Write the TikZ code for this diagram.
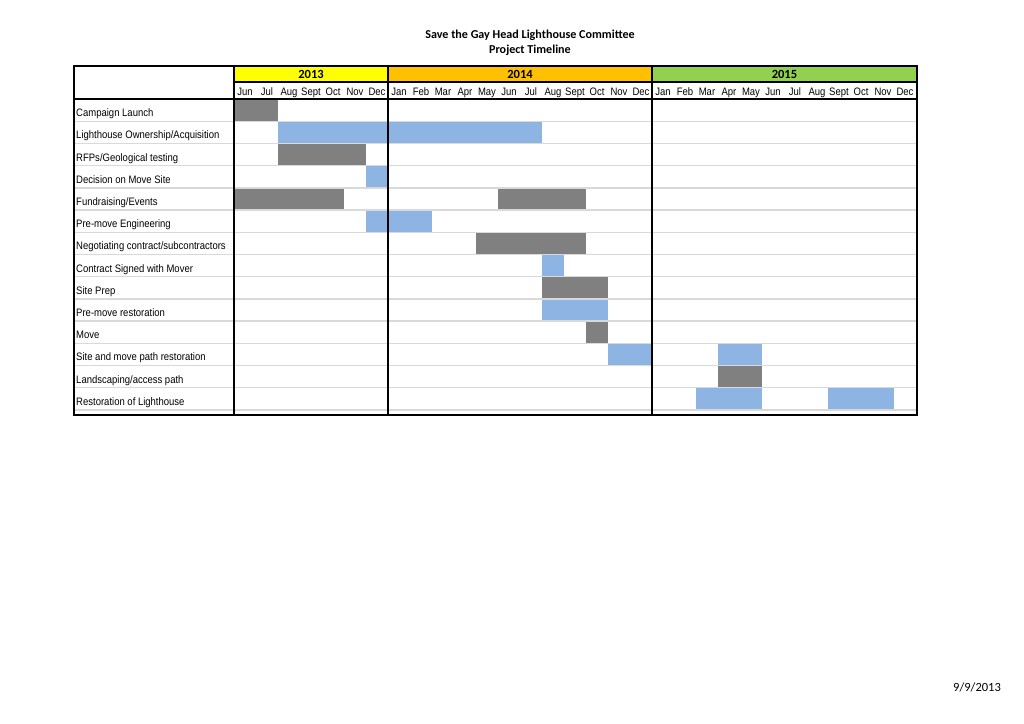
\documentclass[tikz,border=0pt]{standalone}
\usepackage{fontspec}
\setmainfont{Carlito}
\newfontfamily\cellfont[FakeStretch=0.88]{Liberation Sans}
\definecolor{bargray}{HTML}{808080}
\definecolor{barblue}{HTML}{8DB4E2}
\definecolor{yellow13}{HTML}{FFFF00}
\definecolor{orange14}{HTML}{FFC000}
\definecolor{green15}{HTML}{92D050}
\definecolor{gridgray}{HTML}{D9D9D9}

\begin{document}
\begin{tikzpicture}[x=1pt, y=-1pt,
  graybar/.style={fill=bargray},
  bluebar/.style={fill=barblue},
  blackrule/.style={line width=1.4pt, draw=black},
  gridrule/.style={line width=1.4pt, draw=gridgray},
  task/.style={anchor=base west, inner sep=0pt, font=\cellfont\fontsize{10.8}{12}\selectfont},
  month/.style={anchor=base, inner sep=0pt, font=\cellfont\fontsize{10.8}{12}\selectfont},
  year/.style={anchor=base, inner sep=0pt, font=\bfseries\fontsize{12.5}{14}\selectfont},
  heading/.style={inner sep=0pt, font=\bfseries\fontsize{12.1}{15}\selectfont}]
  \useasboundingbox[fill=white] (0,0) rectangle (1024,723);

  % Title
  \node[heading] (title) at (530, 35) {Save the Gay Head Lighthouse Committee};
  \node[heading] (subtitle) at (530, 50) {Project Timeline};

  \begin{scope}[shift={(234,99)}, x=22pt, y=-22.2pt]
    % Year header fills
    \fill[yellow13] (0, -1.49) rectangle (7, -0.77);
    \fill[orange14] (7, -1.49) rectangle (19, -0.77);
    \fill[green15] (19, -1.49) rectangle (31.05, -0.77);

    % Bars
    \fill[graybar] (0, 0) rectangle (2, 1);
    \fill[bluebar] (2, 1) rectangle (14, 2);
    \fill[graybar] (2, 2) rectangle (6, 3);
    \fill[bluebar] (6, 3) rectangle (7, 4);
    \fill[graybar] (0, 4) rectangle (5, 5);
    \fill[graybar] (12, 4) rectangle (16, 5);
    \fill[bluebar] (6, 5) rectangle (9, 6);
    \fill[graybar] (11, 6) rectangle (16, 7);
    \fill[bluebar] (14, 7) rectangle (15, 8);
    \fill[graybar] (14, 8) rectangle (17, 9);
    \fill[bluebar] (14, 9) rectangle (17, 10);
    \fill[graybar] (16, 10) rectangle (17, 11);
    \fill[bluebar] (17, 11) rectangle (19, 12);
    \fill[bluebar] (22, 11) rectangle (24, 12);
    \fill[graybar] (22, 12) rectangle (24, 13);
    \fill[bluebar] (21, 13) rectangle (24, 14);
    \fill[bluebar] (27, 13) rectangle (30, 14);

    % Row separators
    \draw[gridrule]
      (-7.27, 1) -- (31.05, 1)   (-7.27, 2) -- (31.05, 2)
      (-7.27, 3) -- (31.05, 3)   (-7.27, 4) -- (31.05, 4)
      (-7.27, 5) -- (31.05, 5)   (-7.27, 6) -- (31.05, 6)
      (-7.27, 7) -- (31.05, 7)   (-7.27, 8) -- (31.05, 8)
      (-7.27, 9) -- (31.05, 9)   (-7.27, 10) -- (31.05, 10)
      (-7.27, 11) -- (31.05, 11) (-7.27, 12) -- (31.05, 12)
      (-7.27, 13) -- (31.05, 13) (-7.27, 14) -- (31.05, 14);

    % Frame and year dividers
    \draw[blackrule] (-7.27, -1.49) rectangle (31.05, 14.23);
    \draw[blackrule] (0, -1.49) -- (0, 14.23);
    \draw[blackrule] (7, -1.49) -- (7, 14.23);
    \draw[blackrule] (19, -1.49) -- (19, 14.23);
    \draw[blackrule] (0, -0.77) -- (31.05, -0.77);
    \draw[blackrule] (-7.27, 0) -- (31.05, 0);

    % Year labels
    \node[year] (y2013) at (3.5, -0.93) {2013};
    \node[year] (y2014) at (13, -0.93) {2014};
    \node[year] (y2015) at (25.02, -0.93) {2015};

    % Month labels, 2013
    \node[month] (m13jun) at (0.5, -0.14) {Jun};
    \node[month] (m13jul) at (1.5, -0.14) {Jul};
    \node[month] (m13aug) at (2.5, -0.14) {Aug};
    \node[month] (m13sep) at (3.5, -0.14) {Sept};
    \node[month] (m13oct) at (4.5, -0.14) {Oct};
    \node[month] (m13nov) at (5.5, -0.14) {Nov};
    \node[month] (m13dec) at (6.5, -0.14) {Dec};
    % Month labels, 2014
    \node[month] (m14jan) at (7.5, -0.14) {Jan};
    \node[month] (m14feb) at (8.5, -0.14) {Feb};
    \node[month] (m14mar) at (9.5, -0.14) {Mar};
    \node[month] (m14apr) at (10.5, -0.14) {Apr};
    \node[month] (m14may) at (11.5, -0.14) {May};
    \node[month] (m14jun) at (12.5, -0.14) {Jun};
    \node[month] (m14jul) at (13.5, -0.14) {Jul};
    \node[month] (m14aug) at (14.5, -0.14) {Aug};
    \node[month] (m14sep) at (15.5, -0.14) {Sept};
    \node[month] (m14oct) at (16.5, -0.14) {Oct};
    \node[month] (m14nov) at (17.5, -0.14) {Nov};
    \node[month] (m14dec) at (18.5, -0.14) {Dec};
    % Month labels, 2015
    \node[month] (m15jan) at (19.5, -0.14) {Jan};
    \node[month] (m15feb) at (20.5, -0.14) {Feb};
    \node[month] (m15mar) at (21.5, -0.14) {Mar};
    \node[month] (m15apr) at (22.5, -0.14) {Apr};
    \node[month] (m15may) at (23.5, -0.14) {May};
    \node[month] (m15jun) at (24.5, -0.14) {Jun};
    \node[month] (m15jul) at (25.5, -0.14) {Jul};
    \node[month] (m15aug) at (26.5, -0.14) {Aug};
    \node[month] (m15sep) at (27.5, -0.14) {Sept};
    \node[month] (m15oct) at (28.5, -0.14) {Oct};
    \node[month] (m15nov) at (29.5, -0.14) {Nov};
    \node[month] (m15dec) at (30.5, -0.14) {Dec};

    % Task labels
    \node[task] (launch) at (-7.18, 0.8) {Campaign Launch};
    \node[task] (ownership) at (-7.18, 1.8) {Lighthouse Ownership/Acquisition};
    \node[task] (rfps) at (-7.18, 2.8) {RFPs/Geological testing};
    \node[task] (decision) at (-7.18, 3.8) {Decision on Move Site};
    \node[task] (fundraising) at (-7.18, 4.8) {Fundraising/Events};
    \node[task] (engineering) at (-7.18, 5.8) {Pre-move Engineering};
    \node[task] (negotiating) at (-7.18, 6.8) {Negotiating contract/subcontractors};
    \node[task] (contract) at (-7.18, 7.8) {Contract Signed with Mover};
    \node[task] (siteprep) at (-7.18, 8.8) {Site Prep};
    \node[task] (premove) at (-7.18, 9.8) {Pre-move restoration};
    \node[task] (move) at (-7.18, 10.8) {Move};
    \node[task] (pathrest) at (-7.18, 11.8) {Site and move path restoration};
    \node[task] (landscaping) at (-7.18, 12.8) {Landscaping/access path};
    \node[task] (lighthouse) at (-7.18, 13.8) {Restoration of Lighthouse};
  \end{scope}

  % Print date
  \node[inner sep=0pt, font=\fontsize{12.5}{15}\selectfont] (date) at (977, 687) {9/9/2013};
\end{tikzpicture}
\end{document}
